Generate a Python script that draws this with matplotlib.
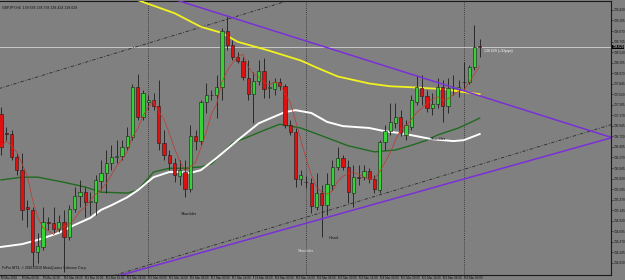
import matplotlib
matplotlib.use("Agg")
import matplotlib.pyplot as plt
import numpy as np
import pandas as pd

# ---------------- data (GBPJPY H4) ----------------
opens = [137.20,136.79,136.77,136.28,136.00,135.21,135.15,134.25,134.36,134.89,
         134.87,134.74,134.89,134.57,135.17,135.45,135.53,135.32,135.32,135.77,
         135.94,136.15,136.28,136.30,136.49,136.71,137.77,137.13,137.45,137.50,
         137.37,136.58,136.32,136.15,135.87,135.96,135.60,136.73,136.62,137.45,
         137.60,137.60,137.77,138.97,138.67,138.41,138.33,137.97,137.62,137.90,
         138.11,137.75,137.73,137.88,137.79,136.96,136.81,135.81,135.74,135.72,
         135.21,135.51,135.25,135.68,136.07,136.26,136.07,135.51,135.85,135.85,
         135.98,135.81,135.57,136.60,136.83,137.00,137.13,136.75,136.92,137.45,
         137.75,137.58,137.32,137.41,137.77,137.37,137.75,137.73,137.88,137.88,
         138.20,138.638]
highs = [137.35,136.92,136.85,136.36,136.36,135.36,135.21,134.66,135.21,135.00,
         135.21,135.04,135.15,135.25,135.64,135.79,135.64,135.53,135.89,136.22,
         136.43,136.53,136.64,136.64,136.92,137.84,138.05,137.71,137.60,137.64,
         137.92,136.85,136.43,136.26,136.22,136.22,136.96,136.85,137.50,137.86,
         137.71,138.03,139.03,139.31,138.78,138.52,138.41,138.35,138.09,138.35,
         138.39,137.92,137.97,137.97,137.84,137.07,136.90,136.00,135.87,135.83,
         135.94,135.68,135.94,136.22,136.49,136.32,136.22,136.11,136.11,136.11,
         136.04,135.89,136.64,136.96,137.43,137.43,137.28,137.07,137.60,138.03,
         138.03,137.71,137.64,137.97,137.92,137.97,138.03,137.92,138.31,138.24,
         139.10,138.798]
lows = [136.32,136.64,136.22,135.89,134.93,134.78,133.93,134.02,134.29,134.72,
        134.66,134.68,133.82,134.51,135.10,135.21,135.00,135.04,135.04,135.57,
        135.51,136.00,136.15,136.22,136.43,136.64,137.07,137.07,137.28,137.28,
        136.43,136.22,136.00,135.74,135.68,135.42,135.53,136.43,136.53,137.22,
        137.50,137.11,137.50,138.56,138.35,138.29,137.92,137.50,137.00,137.82,
        137.54,137.54,137.60,137.71,136.90,136.75,135.64,135.68,135.62,135.08,
        135.15,134.57,135.04,135.57,136.00,136.00,135.30,135.21,135.68,135.79,
        135.72,135.51,135.51,136.43,136.75,136.90,136.73,136.64,136.85,137.39,
        137.39,137.24,137.17,137.32,137.03,137.22,137.60,137.56,137.71,137.84,
        138.14,138.424]
closes = [136.49,136.77,136.28,136.00,135.15,135.17,134.25,134.38,134.89,134.87,
          134.74,134.89,134.57,135.17,135.45,135.53,135.32,135.34,135.79,135.94,
          136.15,136.28,136.30,136.49,136.73,137.77,137.13,137.64,137.50,137.37,
          136.58,136.32,136.15,135.89,136.00,135.60,136.73,136.62,137.45,137.60,
          137.61,137.77,138.97,138.67,138.41,138.33,137.99,137.62,137.90,138.11,
          137.73,137.77,137.88,137.79,136.96,136.81,135.81,135.89,135.75,135.23,
          135.51,135.25,135.70,136.07,136.26,136.07,135.53,135.85,135.84,135.98,
          135.81,135.60,136.60,136.83,137.03,137.13,136.79,136.96,137.50,137.77,
          137.58,137.32,137.41,137.77,137.37,137.75,137.76,137.77,137.89,138.20,
          138.62,138.629]

# moving averages (bar index, price)
yellow_bars = [24, 26, 33, 38, 42, 45, 51, 57, 60, 64, 70, 74, 78, 84, 91]
yellow_vals = [139.72, 139.63, 139.35, 139.06, 138.93, 138.74, 138.55, 138.34,
               138.19, 138.00, 137.85, 137.79, 137.77, 137.73, 137.62]
white_bars = [0, 4, 7, 11, 14, 17, 19, 21, 24, 26, 29, 32, 34, 36, 38, 41, 45, 49,
              54, 56, 59, 62, 65, 70, 73, 76, 82, 86, 88, 91]
white_vals = [134.36, 134.42, 134.51, 134.66, 134.83, 134.98, 135.15, 135.25,
              135.42, 135.57, 135.85, 135.96, 135.96, 135.94, 136.00, 136.26,
              136.64, 137.00, 137.24, 137.28, 137.22, 137.03, 136.94, 136.90,
              136.83, 136.79, 136.66, 136.62, 136.64, 136.77]
green_bars = [0, 4, 7, 12, 16, 19, 24, 26, 29, 32, 35, 38, 40, 44, 47, 50, 53, 57,
              62, 66, 71, 75, 78, 81, 83, 87, 91]
green_vals = [135.79, 135.85, 135.85, 135.74, 135.64, 135.53, 135.51, 135.57,
              135.96, 136.04, 136.04, 136.07, 136.13, 136.58, 136.71, 136.85,
              136.98, 136.90, 136.69, 136.52, 136.39, 136.43, 136.53, 136.64,
              136.75, 136.90, 137.11]
fast_ma_period = 5

# trendlines (bar index, price)
purple_down = ([30, 116], [139.75, 136.70])
purple_up = ([20, 116], [133.67, 136.69])
channel_top = ([-1, 57], [137.72, 139.70])
channel_bottom = ([20, 116], [133.70, 136.97])
separators = [28, 58, 88]
bid = 138.629

date_bars = list(range(0, 89, 4))
date_labels = ["8 Mar 2010", "9 Mar 00:00", "9 Mar 16:00", "10 Mar 08:00",
               "11 Mar 00:00", "11 Mar 16:00", "12 Mar 08:00", "15 Mar 00:00",
               "15 Mar 16:00", "16 Mar 08:00", "17 Mar 00:00", "17 Mar 16:00",
               "18 Mar 08:00", "19 Mar 00:00", "19 Mar 16:00", "22 Mar 08:00",
               "23 Mar 00:00", "23 Mar 16:00", "24 Mar 08:00", "25 Mar 00:00",
               "25 Mar 16:00", "26 Mar 08:00", "29 Mar 00:00"]
price_ticks = [round(139.420 - 0.225 * k, 3) for k in range(25)]

annotations = [("Shoulder", 35.8, 135.07, "#111111"),
               ("Shoulder", 58.0, 134.28, "#dddddd"),
               ("Head", 63.2, 134.55, "#111111"),
               ("Shoulder", 83.0, 136.67, "#111111")]
header = "GBPJPY,H4  138.638 138.798 138.424 138.629"
footer = "FxPro MT4, \u00a9 2001-2010 MetaQuotes Software Corp."
bid_note = "138.629 (+33pips)"

# ---------------- drawing ----------------
SMALL = ["Liberation Sans Narrow", "Liberation Sans", "DejaVu Sans"]
BG = "#808080"
fig = plt.figure(figsize=(6.25, 2.8), dpi=100, facecolor=BG)
ax = fig.add_axes([0, 5 / 280, 611 / 625, 274 / 280])
ax.set_facecolor(BG)
ax.set_xlim(-0.19, 115.97)
ax.set_ylim(133.761, 139.611)

n = len(opens)
x = np.arange(n)
o = np.array(opens); c = np.array(closes)
h = np.array(highs); l = np.array(lows)

for s in separators:
    ax.axvline(s, color="#2a2a2a", lw=0.6, ls=(0, (1, 1.5)), zorder=1)
ax.axhline(bid, color="#c8c8c8", lw=0.7, zorder=1)

ax.plot(*channel_top, color="#2a2a2a", lw=0.6, ls=(0, (4, 2, 1, 2)), zorder=2)
ax.plot(*channel_bottom, color="#2a2a2a", lw=0.6, ls=(0, (4, 2, 1, 2)), zorder=2)

ax.plot(green_bars, green_vals, color="#1f6b1f", lw=1.0, zorder=3)
ax.plot(white_bars, white_vals, color="#ffffff", lw=1.4, zorder=3)
ax.plot(yellow_bars, yellow_vals, color="#f2f21e", lw=1.3, zorder=3)

ax.vlines(x, l, h, color="#1c1c1c", lw=0.6, zorder=4)
up = c >= o
bottoms = np.minimum(o, c)
heights = np.maximum(np.abs(c - o), 0.012)
ax.bar(x[up], heights[up], bottom=bottoms[up], width=0.62,
       color="#36d236", edgecolor="#1c1c1c", lw=0.4, zorder=5)
ax.bar(x[~up], heights[~up], bottom=bottoms[~up], width=0.62,
       color="#e01010", edgecolor="#1c1c1c", lw=0.4, zorder=5)

fast = pd.Series(closes).rolling(fast_ma_period, min_periods=1).mean()
ax.plot(x, fast, color="#c0392b", lw=0.5, zorder=6)

ax.plot(*purple_down, color="#7a30d8", lw=1.1, zorder=6)
ax.plot(*purple_up, color="#7a30d8", lw=1.1, zorder=6)

for txt, bx, py, col in annotations:
    ax.text(bx, py, txt, fontsize=3.0, color=col, ha="center", va="center",
            zorder=7, family=SMALL)

ax.text(n - 0.2, bid - 0.08, bid_note, fontsize=2.5, color="white",
        ha="left", va="center", zorder=7, family=SMALL)
ax.text(0.003, 0.985, header, transform=ax.transAxes, fontsize=2.5,
        color="#111111", ha="left", va="top", family=SMALL)
ax.text(0.003, 0.018, footer, transform=ax.transAxes, fontsize=2.5,
        color="#111111", ha="left", va="bottom", family=SMALL)

# axes
ax.spines["left"].set_visible(False)
for side in ["top", "right", "bottom"]:
    ax.spines[side].set_color("#1a1a1a")
    ax.spines[side].set_linewidth(0.8)

ax.yaxis.tick_right()
ax.set_yticks(price_ticks)
ax.set_yticklabels([f"{p:.3f}" for p in price_ticks], family=SMALL)
ax.tick_params(axis="y", length=1.2, width=0.4, pad=0.6, labelsize=2.3,
               colors="#111111")
ax.set_xticks(date_bars)
ax.set_xticklabels([])
ax.tick_params(axis="x", length=2, width=0.4, colors="#111111")
for b, lab in zip(date_bars, date_labels):
    ax.text(b + 0.2, -0.004, lab, fontsize=2.2, color="#111111",
            ha="left", va="top", transform=ax.get_xaxis_transform(),
            clip_on=False, family=SMALL)

ax.text(1.002, bid, f"{bid:.3f}", transform=ax.get_yaxis_transform(),
        fontsize=2.3, color="white", ha="left", va="center", family=SMALL,
        bbox=dict(boxstyle="square,pad=0.12", fc="black", ec="none"), clip_on=False)

fig.savefig("out.png", dpi=100, facecolor=BG)
